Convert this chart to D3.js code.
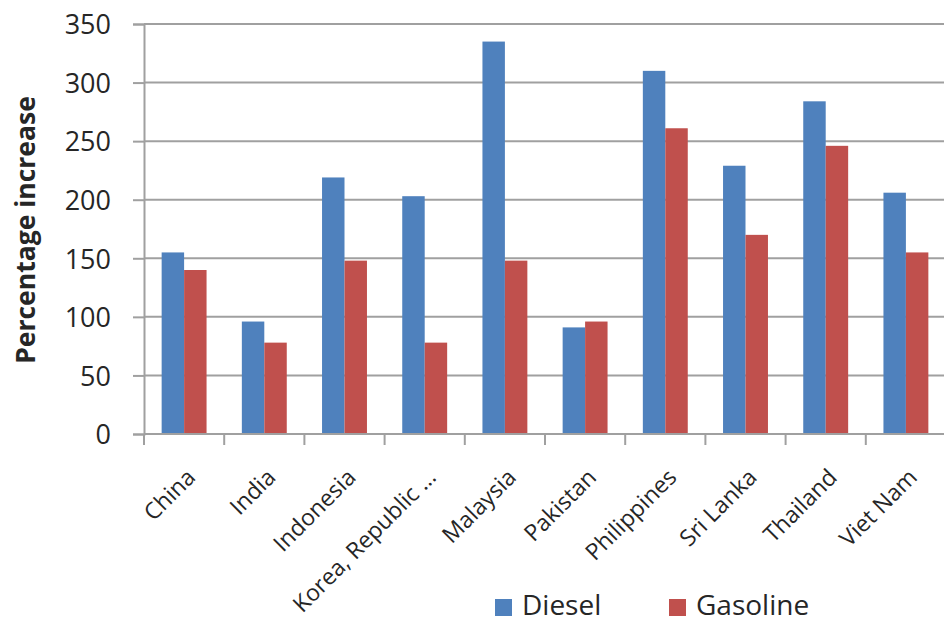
<!DOCTYPE html>
<html><head><meta charset="utf-8">
<script src="https://cdn.jsdelivr.net/npm/d3@7"></script>
<style>
html,body{margin:0;padding:0;background:#fff;}
svg{display:block;}
text{font-family:"Open Sans",sans-serif;fill:#262626;}
</style></head>
<body><svg id="chart" width="944" height="622"></svg>
<script>
const categories = ["China","India","Indonesia","Korea, Republic …","Malaysia","Pakistan","Philippines","Sri Lanka","Thailand","Viet Nam"];
const diesel   = [155, 96, 219, 203, 335, 91, 310, 229, 284, 206];
const gasoline = [140, 78, 148, 78, 148, 96, 261, 170, 246, 155];
const seriesNames = ["Diesel","Gasoline"];
const seriesColors = ["#4F81BD","#C0504D"];
const yTicks = [0,50,100,150,200,250,300,350];

(function(){
const svg = d3.select("#chart");
const pLeft = 144, pRight = 946, pTop = 24, pBottom = 434;

const x = d3.scaleBand().domain(categories).range([pLeft, pRight]).paddingInner(0.44).paddingOuter(0.22);
const xs = d3.scaleBand().domain(seriesNames).range([0, x.bandwidth()]);
const y = d3.scaleLinear().domain([0, 350]).range([pBottom, pTop]);

// gridlines
svg.append("g").selectAll("line").data(yTicks).join("line")
  .attr("x1", pLeft).attr("x2", 944)
  .attr("y1", d => y(d)).attr("y2", d => y(d))
  .attr("stroke", "#a0a0a0").attr("stroke-width", 2);

// bars
const series = [diesel, gasoline];
series.forEach((vals, si) => {
  svg.append("g").selectAll("rect").data(vals).join("rect")
    .attr("x", (d, i) => x(categories[i]) + xs(seriesNames[si]))
    .attr("width", xs.bandwidth())
    .attr("y", d => y(d))
    .attr("height", d => y(0) - y(d))
    .attr("fill", seriesColors[si]);
});

// y axis
const yAxis = d3.axisLeft(y).tickValues(yTicks).tickSize(11).tickPadding(22);
const gy = svg.append("g").attr("transform", `translate(${pLeft},0)`).call(yAxis);
gy.select(".domain").attr("stroke", "#a0a0a0").attr("stroke-width", 2);
gy.selectAll(".tick line").attr("stroke", "#a0a0a0").attr("stroke-width", 2);
gy.selectAll(".tick text").style("font-size", "27px").style("font-family", "'Open Sans',sans-serif").attr("fill", "#262626").attr("dy", "0.36em");

// x axis line + ticks at band boundaries
svg.append("line").attr("x1", pLeft).attr("x2", 944).attr("y1", pBottom).attr("y2", pBottom)
  .attr("stroke", "#a0a0a0").attr("stroke-width", 2);
const bounds = categories.map(c => x(c) - x.step() * 0.22).concat([pRight]);
svg.append("g").selectAll("line").data(bounds).join("line")
  .attr("x1", d => d).attr("x2", d => d).attr("y1", pBottom).attr("y2", pBottom + 11)
  .attr("stroke", "#a0a0a0").attr("stroke-width", 2);

// x labels
svg.append("g").selectAll("text").data(categories).join("text")
  .attr("transform", d => `translate(${x(d) + x.bandwidth()/2 + 1},${pBottom + 33}) rotate(-45)`)
  .attr("text-anchor", "end").attr("dy", "0.72em")
  .style("font-size", "23px").text(d => d);

// y title
svg.append("text")
  .attr("transform", `translate(35,230) rotate(-90)`)
  .attr("text-anchor", "middle")
  .style("font-size", "26.5px").style("font-weight", "bold").text("Percentage increase");

// legend
const legX = [495, 669];
seriesNames.forEach((n, i) => {
  svg.append("rect").attr("x", legX[i]).attr("y", 599).attr("width", 17).attr("height", 17).attr("fill", seriesColors[i]);
  svg.append("text").attr("x", legX[i] + 27).attr("y", 615).style("font-size", "28px").text(n);
});
})();
</script></body></html>
